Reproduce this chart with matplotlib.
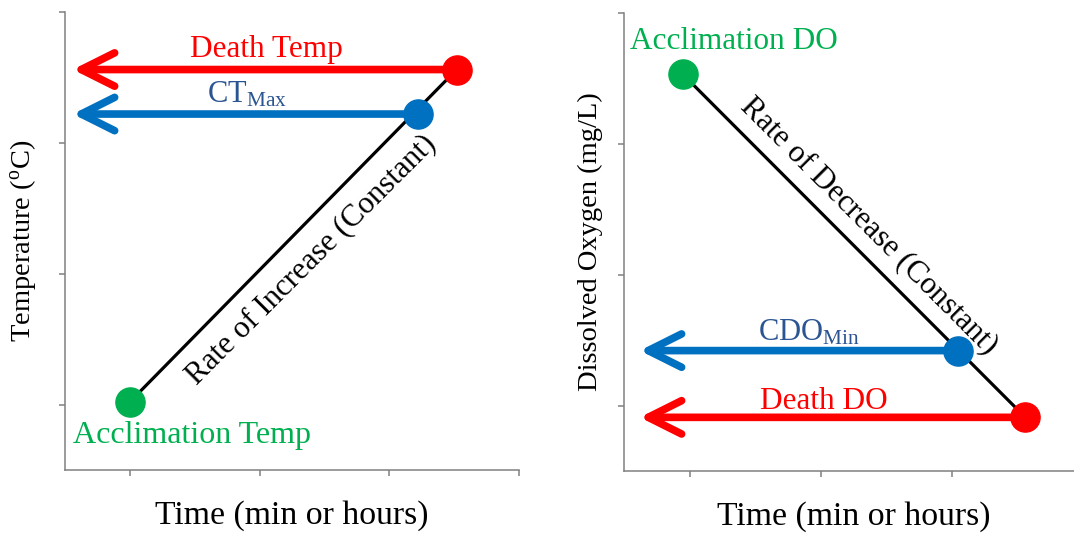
import matplotlib.pyplot as plt

plt.rcParams['font.family'] = ['Liberation Serif', 'DejaVu Serif']
plt.rcParams['mathtext.fontset'] = 'custom'
plt.rcParams['mathtext.rm'] = 'Liberation Serif'
plt.rcParams['mathtext.it'] = 'Liberation Serif:italic'

red = '#FF0000'
blue = '#0070C0'
green = '#00B050'
textblue = '#2B5592'
gray = '#808080'

# left panel: temperature
temp_x = [1.0, 3.22, 3.52]        # acclimation, CTmax, death
temp_y = [1.02, 3.22, 3.56]
temp_arrow_tip = 0.56

# right panel: dissolved oxygen
do_x = [0.95, 3.05, 3.56]         # acclimation, CDOmin, death
do_y = [3.53, 1.42, 0.91]
do_arrow_tip = 0.62

ticks = [1, 2, 3, 4]

fig = plt.figure(figsize=(10.74, 5.34), dpi=100)
ax1 = fig.add_axes([0.0605, 0.1199, 0.4227, 0.8577])
ax2 = fig.add_axes([0.581, 0.118, 0.4274, 0.8577])


def style(ax):
    ax.set_xlim(0.5, 4)
    ax.set_ylim(0.5, 4)
    ax.set_xticks(ticks)
    ax.set_yticks(ticks)
    ax.tick_params(direction='out', length=4, width=1.1, color=gray,
                   labelleft=False, labelbottom=False)
    for s in ['top', 'right']:
        ax.spines[s].set_visible(False)
    for s in ['left', 'bottom']:
        ax.spines[s].set_color(gray)
        ax.spines[s].set_linewidth(1.1)


def arrow(ax, x0, y0, xtip, color):
    ax.annotate('', xy=(xtip, y0), xytext=(x0, y0),
                arrowprops=dict(arrowstyle='->,head_length=1.2,head_width=0.6',
                                lw=5.5, color=color, capstyle='round',
                                shrinkA=0, shrinkB=0, mutation_scale=20),
                zorder=2)


for ax in (ax1, ax2):
    style(ax)

# left
ax1.plot([temp_x[0], temp_x[2]], [temp_y[0], temp_y[2]], color='black', lw=2.3, zorder=1)
arrow(ax1, temp_x[2], temp_y[2], temp_arrow_tip, red)
arrow(ax1, temp_x[1], temp_y[1], temp_arrow_tip, blue)
for x, y, c in zip(temp_x, temp_y, [green, blue, red]):
    ax1.plot(x, y, 'o', ms=21, color=c, zorder=3)
ax1.text(2.05, 3.71, 'Death Temp', color=red, fontsize=22.5, ha='center', va='center')
ax1.text(1.90, 3.37, r'CT$_{\mathrm{Max}}$', color=textblue, fontsize=22, ha='center', va='center')
ax1.text(1.48, 0.76, 'Acclimation Temp', color=green, fontsize=23, ha='center', va='center')
ax1.text(2.40, 2.11, 'Rate of Increase (Constant)', fontsize=22.3, rotation=45,
         rotation_mode='anchor', ha='center', va='center')
ax1.set_xlabel('Time (min or hours)', fontsize=24.3)
ax1.set_ylabel(r'Temperature ($^{\mathrm{o}}$C)', fontsize=20.5)
ax1.xaxis.set_label_coords(0.5, -0.066)
ax1.yaxis.set_label_coords(-0.059, 0.5)

# right
ax2.plot([do_x[0], do_x[2]], [do_y[0], do_y[2]], color='black', lw=2.3, zorder=1)
arrow(ax2, do_x[2], do_y[2], do_arrow_tip, red)
arrow(ax2, do_x[1], do_y[1], do_arrow_tip, blue)
for x, y, c in zip(do_x, do_y, [green, blue, red]):
    ax2.plot(x, y, 'o', ms=21, color=c, zorder=3)
ax2.text(1.34, 3.78, 'Acclimation DO', color=green, fontsize=22.5, ha='center', va='center')
ax2.text(1.91, 1.56, r'CDO$_{\mathrm{Min}}$', color=textblue, fontsize=22, ha='center', va='center')
ax2.text(2.02, 1.03, 'Death DO', color=red, fontsize=22.5, ha='center', va='center')
ax2.text(2.37, 2.37, 'Rate of Decrease (Constant)', fontsize=22.3, rotation=-45,
         rotation_mode='anchor', ha='center', va='center')
ax2.set_xlabel('Time (min or hours)', fontsize=24.3)
ax2.set_ylabel('Dissolved Oxygen (mg/L)', fontsize=20.5)
ax2.xaxis.set_label_coords(0.5, -0.066)
ax2.yaxis.set_label_coords(-0.046, 0.5)

fig.savefig('out.png', dpi=100)
